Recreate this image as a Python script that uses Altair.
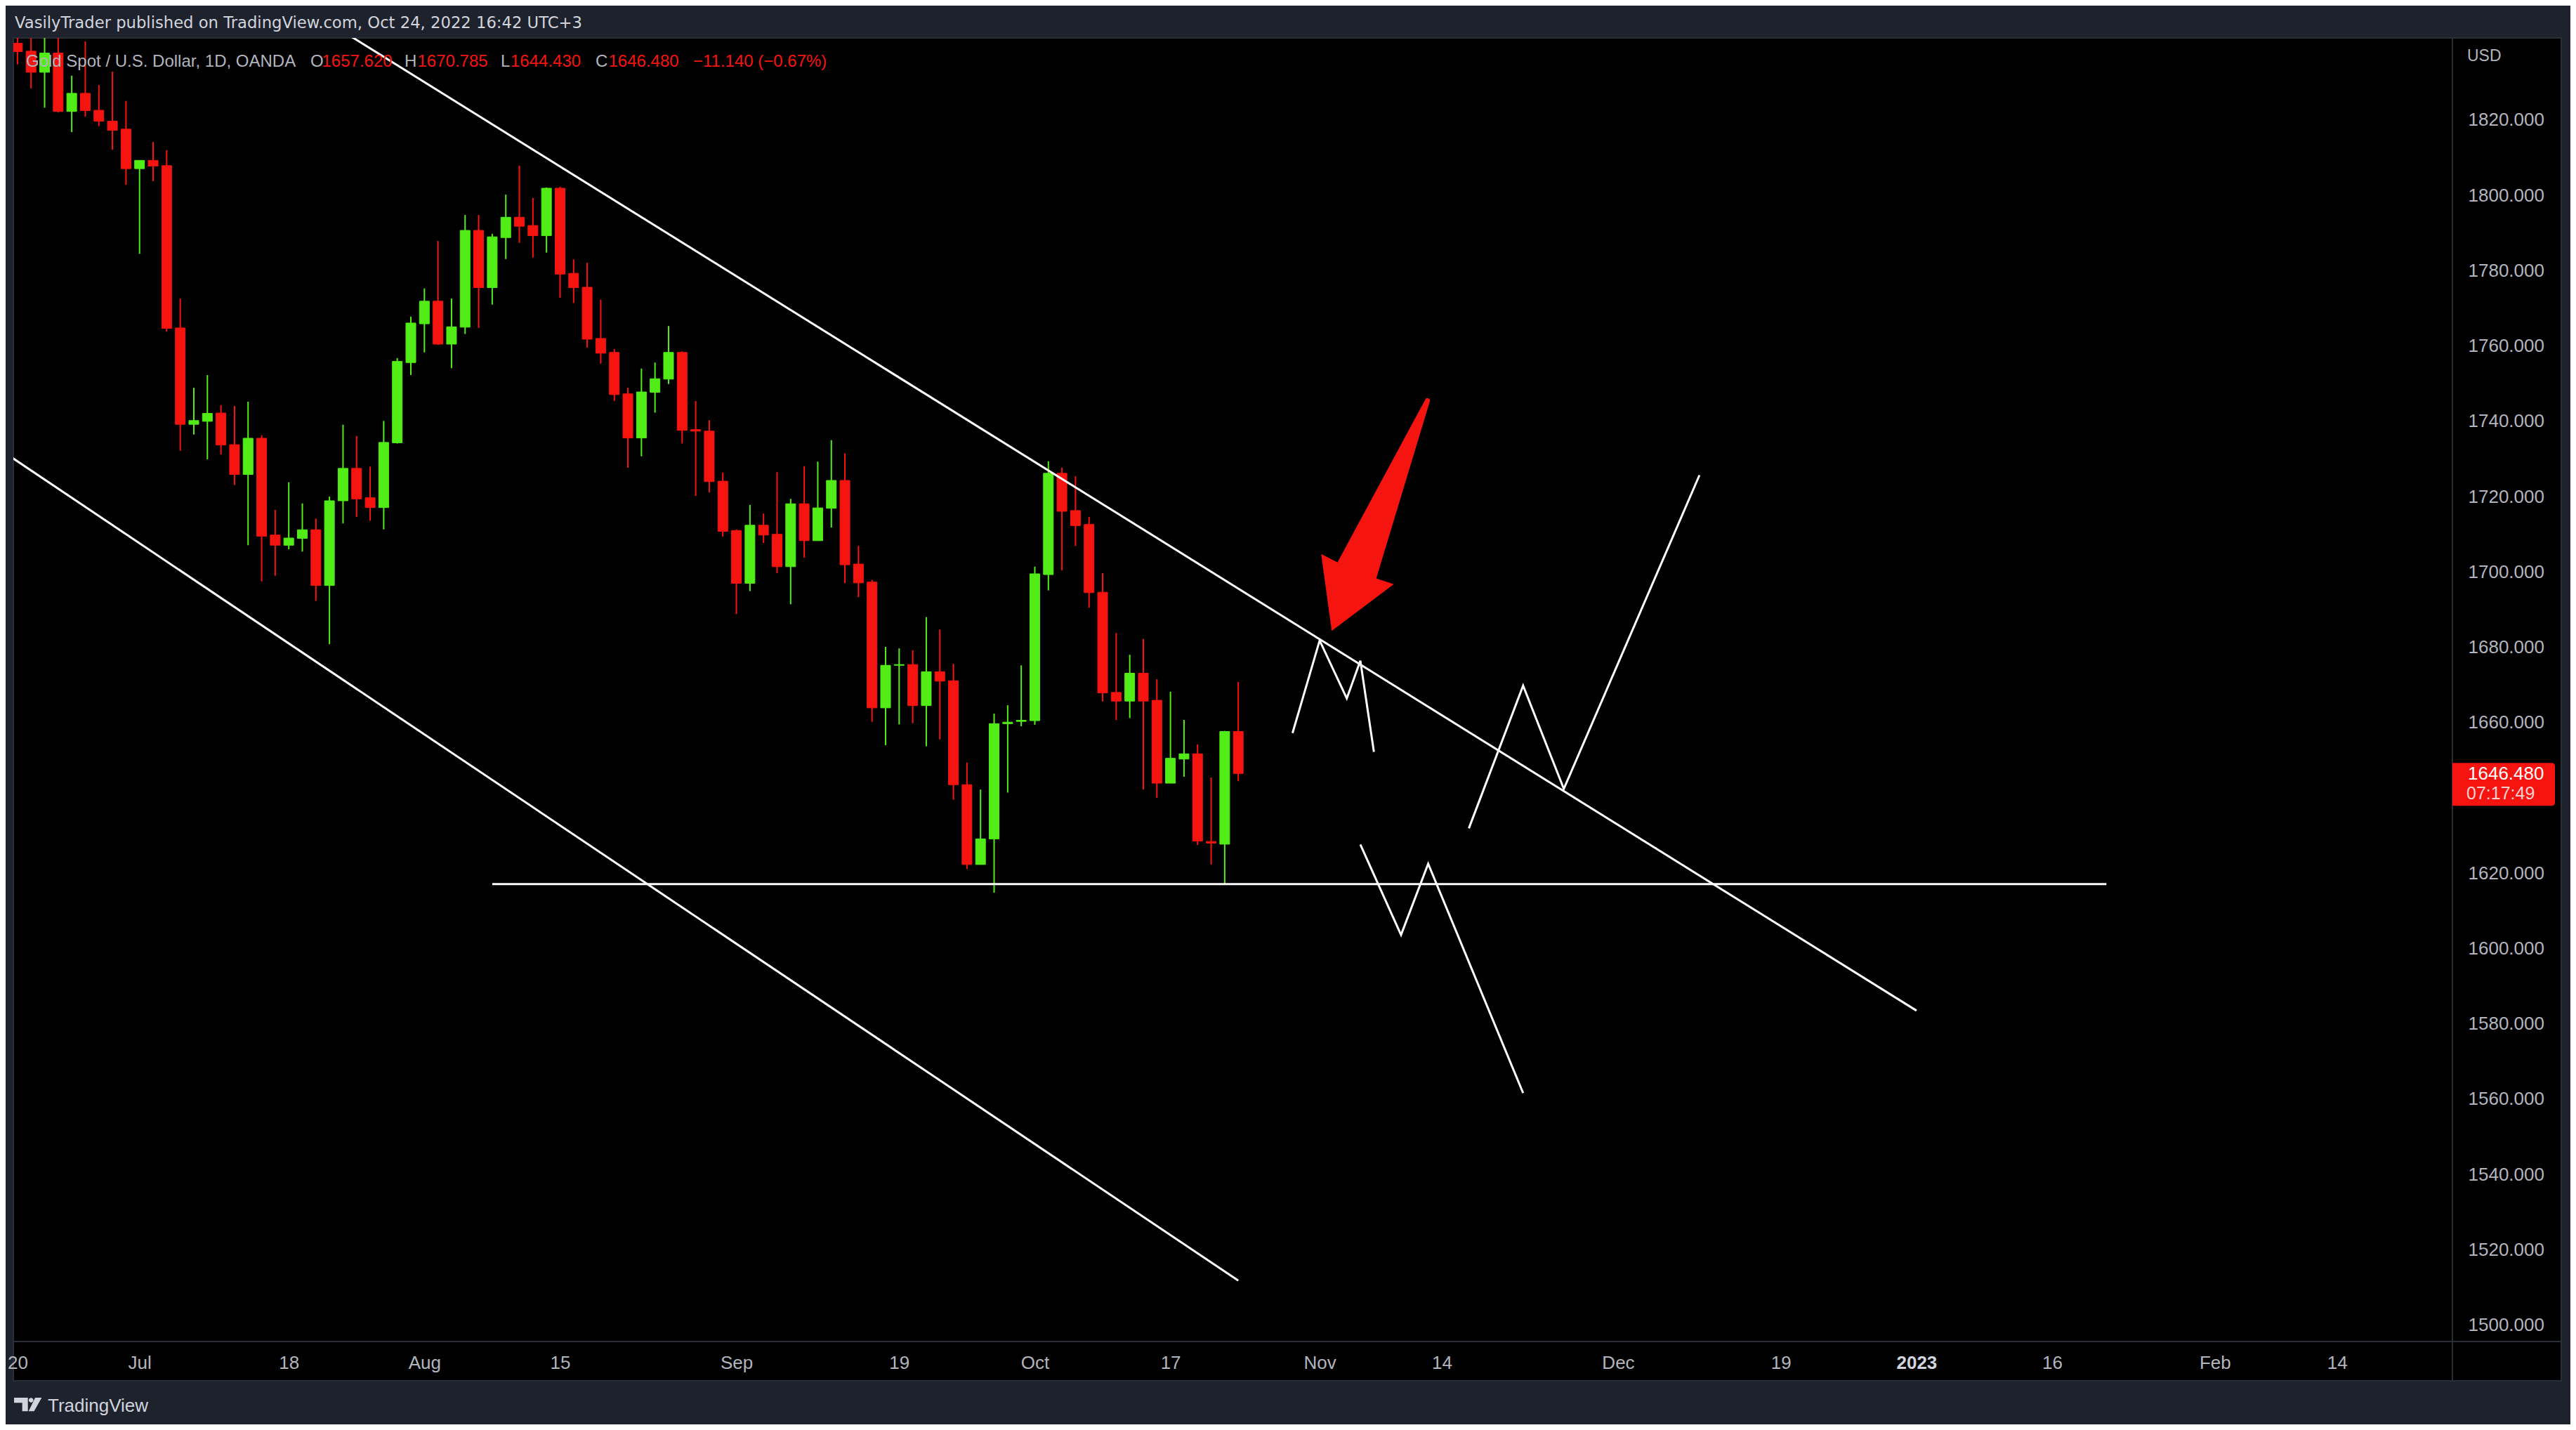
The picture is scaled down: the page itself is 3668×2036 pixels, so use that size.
import altair as alt
import pandas as pd

# ---------------- calendar (weekday bars, as TradingView spaces them) ----------------
cal = pd.bdate_range("2022-06-20", "2023-03-31")

# ---------------- daily OHLC, XAUUSD (OANDA), Jun 20 - Oct 24 2022 ----------------
opens = [1840.4, 1838.3, 1832.7, 1837.8, 1822.3, 1827.1, 1822.6, 1819.7, 1817.6, 1807.1,
         1809.3, 1807.9, 1764.8, 1739.2, 1740.0, 1742.2, 1733.8, 1725.9, 1735.5, 1709.8,
         1707.1, 1708.9, 1711.2, 1696.4, 1718.9, 1727.5, 1719.7, 1717.1, 1734.3, 1755.6,
         1765.9, 1771.9, 1760.5, 1765.0, 1790.7, 1775.5, 1788.8, 1794.2, 1792.0, 1789.3,
         1801.9, 1779.3, 1775.6, 1762.0, 1758.3, 1747.3, 1735.6, 1747.7, 1751.2, 1758.3,
         1737.8, 1737.4, 1724.1, 1711.0, 1697.0, 1712.4, 1710.0, 1701.4, 1718.1, 1708.3,
         1716.9, 1724.3, 1702.1, 1697.3, 1663.9, 1675.2, 1675.4, 1664.5, 1673.5, 1671.1,
         1643.5, 1622.3, 1629.1, 1659.7, 1660.3, 1660.5, 1699.3, 1726.2, 1716.3, 1712.6,
         1694.6, 1668.0, 1665.7, 1673.1, 1665.9, 1643.9, 1650.3, 1651.7, 1628.4, 1627.7,
         1657.62]
highs = [1845.0, 1843.0, 1846.0, 1845.0, 1831.8, 1840.9, 1829.3, 1832.9, 1825.1, 1809.3,
         1814.2, 1812.0, 1772.6, 1748.9, 1752.3, 1744.3, 1744.1, 1745.2, 1736.3, 1716.5,
         1723.8, 1718.2, 1714.2, 1720.0, 1739.1, 1736.1, 1728.0, 1740.1, 1756.8, 1767.8,
         1775.3, 1787.9, 1772.6, 1794.8, 1794.8, 1789.8, 1800.2, 1807.9, 1799.3, 1802.1,
         1802.3, 1783.0, 1782.1, 1772.3, 1759.2, 1748.9, 1754.0, 1755.6, 1765.3, 1758.6,
         1745.4, 1740.3, 1726.4, 1711.3, 1717.8, 1715.5, 1726.5, 1719.4, 1728.1, 1729.3,
         1735.0, 1731.5, 1706.9, 1697.9, 1680.1, 1679.7, 1679.2, 1688.0, 1684.7, 1675.6,
         1649.4, 1642.2, 1662.4, 1664.6, 1675.2, 1701.4, 1729.4, 1727.7, 1725.4, 1714.6,
         1699.7, 1683.8, 1678.0, 1682.2, 1671.5, 1668.2, 1660.7, 1654.2, 1645.4, 1657.8,
         1670.785]
lows = [1834.8, 1828.4, 1823.3, 1822.0, 1816.8, 1820.9, 1818.4, 1812.1, 1802.8, 1784.5,
        1803.8, 1763.8, 1732.2, 1736.5, 1729.9, 1731.2, 1723.1, 1707.1, 1697.5, 1699.0,
        1706.0, 1705.4, 1692.3, 1680.8, 1712.9, 1714.6, 1713.6, 1711.3, 1734.1, 1752.3,
        1758.3, 1760.3, 1754.1, 1763.2, 1764.8, 1771.0, 1783.1, 1787.4, 1783.5, 1784.8,
        1772.8, 1771.4, 1759.6, 1755.3, 1745.4, 1727.7, 1730.7, 1742.3, 1749.9, 1734.1,
        1720.2, 1721.1, 1709.4, 1688.8, 1694.9, 1707.7, 1699.7, 1691.4, 1703.8, 1708.3,
        1711.8, 1697.0, 1693.3, 1660.2, 1654.0, 1659.5, 1659.8, 1653.7, 1655.5, 1639.5,
        1621.1, 1622.3, 1614.8, 1641.4, 1659.0, 1659.4, 1695.1, 1700.4, 1706.9, 1690.5,
        1665.6, 1660.7, 1661.2, 1642.2, 1640.0, 1643.9, 1645.6, 1627.5, 1622.3, 1617.1,
        1644.43]
closes = [1838.2, 1832.7, 1837.8, 1822.3, 1827.1, 1822.5, 1819.7, 1817.3, 1807.1, 1809.3,
          1807.8, 1764.7, 1739.2, 1740.2, 1742.1, 1733.7, 1725.9, 1735.5, 1709.5, 1707.1,
          1709.0, 1711.2, 1696.4, 1718.9, 1727.5, 1719.4, 1717.1, 1734.4, 1755.9, 1766.1,
          1771.9, 1760.5, 1765.1, 1790.7, 1775.5, 1789.0, 1794.2, 1791.8, 1789.3, 1801.9,
          1779.1, 1775.5, 1761.8, 1758.1, 1747.1, 1735.6, 1747.8, 1751.3, 1758.3, 1737.6,
          1737.4, 1724.0, 1710.8, 1697.0, 1712.4, 1709.8, 1701.4, 1718.1, 1708.3, 1717.0,
          1724.3, 1701.9, 1697.1, 1663.9, 1675.2, 1675.4, 1664.5, 1673.5, 1671.0, 1643.5,
          1622.3, 1629.1, 1659.7, 1660.1, 1660.6, 1699.5, 1726.2, 1716.1, 1712.3, 1694.5,
          1667.9, 1665.7, 1673.1, 1665.7, 1643.9, 1650.5, 1651.7, 1628.5, 1628.0, 1657.62,
          1646.48]

# ---------------- time-axis tick labels ----------------
tick_dates = ["2022-06-20", "2022-07-01", "2022-07-18", "2022-08-01", "2022-08-15",
              "2022-09-01", "2022-09-19", "2022-10-03", "2022-10-17", "2022-11-01",
              "2022-11-14", "2022-12-01", "2022-12-19", "2023-01-02", "2023-01-16",
              "2023-02-01", "2023-02-14"]
tick_labels = ["20", "Jul", "18", "Aug", "15", "Sep", "19", "Oct", "17", "Nov", "14",
               "Dec", "19", "2023", "16", "Feb", "14"]
price_ticks = [1500, 1520, 1540, 1560, 1580, 1600, 1620, 1660, 1680, 1700, 1720,
               1740, 1760, 1780, 1800, 1820]

# ---------------- drawings (bar index, price) ----------------
upper_channel_idx = [20, 140]
upper_channel_px = [1852.5, 1583.5]
lower_channel_idx = [-2, 90]
lower_channel_px = [1734.2, 1511.8]
support_idx = [35, 154]
support_px = [1617.1, 1617.1]
zigzag1_idx = [94, 96, 98, 99, 100]
zigzag1_px = [1657.2, 1681.8, 1666.4, 1676.4, 1652.2]
zigzag2_idx = [99, 102, 104, 111]
zigzag2_px = [1627.6, 1603.6, 1622.5, 1561.6]
zigzag3_idx = [107, 111, 114, 124]
zigzag3_px = [1631.9, 1669.8, 1642.4, 1725.7]
# red arrow: shaft (tail -> base of head) and head anchor
arrow_shaft_idx = [103.95, 98.72]
arrow_shaft_px = [1745.5, 1700.2]
arrow_head_idx = [98.70]
arrow_head_px = [1700.0]

# ---------------- frames ----------------
n = len(opens)
candles = pd.DataFrame({
    "idx": list(range(n)),
    "date": cal[:n].strftime("%Y-%m-%d"),
    "open": opens, "high": highs, "low": lows, "close": closes,
})
candles["dir"] = ["up" if c >= o else "down" for o, c in zip(opens, closes)]

rows = []
for name, xs_, ps_ in [("upper", upper_channel_idx, upper_channel_px),
                       ("lower", lower_channel_idx, lower_channel_px),
                       ("support", support_idx, support_px),
                       ("zz1", zigzag1_idx, zigzag1_px),
                       ("zz2", zigzag2_idx, zigzag2_px),
                       ("zz3", zigzag3_idx, zigzag3_px)]:
    for k, (a, b) in enumerate(zip(xs_, ps_)):
        rows.append({"line": name, "ord": k, "idx": a, "price": b})
drawings = pd.DataFrame(rows)

SHAFT_W = [7, 60]
shaft = pd.DataFrame({"idx": arrow_shaft_idx, "price": arrow_shaft_px, "w": SHAFT_W,
                      "ord": list(range(len(arrow_shaft_idx)))})
head = pd.DataFrame({"idx": arrow_head_idx, "price": arrow_head_px})

last = pd.DataFrame({"idx": [n - 1], "price": [closes[-1]],
                     "label": [f"{closes[-1]:.3f}"]})
one = pd.DataFrame({"k": [0]})

tick_idx = [int(cal.get_loc(pd.Timestamp(d))) for d in tick_dates]
label_expr = "''"
for i, lab in reversed(list(zip(tick_idx, tick_labels))):
    label_expr = f"datum.value == {i} ? '{lab}' : ({label_expr})"
year_idx = tick_idx[tick_labels.index("2023")]

# ---------------- styling ----------------
W, H = 3473, 1856
RED = "#f5140f"
GREEN = "#52ec16"
FRAME = "#2a2e39"
AXIS_TXT = "#b2b5be"
FONT = "Liberation Sans"

xscale = alt.Scale(domain=[-0.046, 179.25], nice=False, zero=False)
yscale = alt.Scale(domain=[1495.62, 1841.82], nice=False, zero=False)
xaxis = alt.Axis(values=tick_idx, labelExpr=label_expr, title=None, domain=False,
                 ticks=False, tickSize=0, grid=False, labelPadding=30,
                 labelBaseline="middle", labelFontSize=26, labelFont=FONT,
                 labelColor={"condition": {"test": f"datum.value == {year_idx}", "value": "#d1d4dc"},
                             "value": AXIS_TXT},
                 labelFontWeight={"condition": {"test": f"datum.value == {year_idx}", "value": "bold"},
                                  "value": "normal"},
                 labelOverlap=False, labelBound=False, labelFlush=False, zindex=2)
yaxis = alt.Axis(values=price_ticks, format=".3f", orient="right", title=None,
                 domain=False, ticks=False, tickSize=0, grid=False, labelPadding=22,
                 labelAlign="left", labelBaseline="middle", labelFontSize=26,
                 labelFont=FONT, labelColor=AXIS_TXT, labelOverlap=False, zindex=2)


def X(field="idx"):
    return alt.X(f"{field}:Q", scale=xscale, axis=xaxis)


def Y(field):
    return alt.Y(f"{field}:Q", scale=yscale, axis=yaxis)


color = alt.Color("dir:N", scale=alt.Scale(domain=["up", "down"], range=[GREEN, RED]),
                  legend=None)

layers = []

# black chart panels with frame
layers.append(alt.Chart(one).mark_rect(fill="#000000", stroke=FRAME, strokeWidth=2).encode(
    x=alt.value(0), x2=alt.value(3628), y=alt.value(0), y2=alt.value(1912)))
layers.append(alt.Chart(one).mark_rule(color=FRAME, strokeWidth=2).encode(
    x=alt.value(W), y=alt.value(0), y2=alt.value(1912)))
layers.append(alt.Chart(one).mark_rule(color=FRAME, strokeWidth=2).encode(
    y=alt.value(H), x=alt.value(0), x2=alt.value(3628)))

# candles
layers.append(alt.Chart(candles).mark_rule(strokeWidth=2, clip=True).encode(
    x=X(), y=Y("low"), y2="high:Q", color=color))
layers.append(alt.Chart(candles).mark_bar(size=14, clip=True, strokeWidth=1).encode(
    x=X(), y=Y("open"), y2="close:Q", color=color, stroke=color))

# drawings
layers.append(alt.Chart(drawings).mark_line(color="white", strokeWidth=3, clip=True,
                                            strokeJoin="miter").encode(
    x=X(), y=Y("price"), detail="line:N", order="ord:Q"))

# red arrow: tapered shaft + head
layers.append(alt.Chart(shaft).mark_trail(color=RED).encode(
    x=X(), y=Y("price"), size=alt.Size("w:Q", scale=None, legend=None), order="ord:Q"))
head_path = "M0,-1.625 L1,0.08 L0,0 L-1,0.08 Z"
layers.append(alt.Chart(head).mark_point(shape=head_path, filled=True, size=12544,
                                         angle=202.6, color=RED, opacity=1,
                                         strokeWidth=0).encode(
    x=X(), y=Y("price")))

# last price tag on the price scale
layers.append(alt.Chart(last).mark_rect(color=RED, yOffset=-15, y2Offset=46,
                                        cornerRadiusTopRight=4,
                                        cornerRadiusBottomRight=4).encode(
    x=alt.value(W), x2=alt.value(W + 146), y=Y("price"), y2="price:Q"))
layers.append(alt.Chart(last).mark_text(align="left", baseline="middle", fontSize=26,
                                        font=FONT, color="#ffffff", dy=1).encode(
    x=alt.value(W + 22), y=Y("price"), text="label:N"))
layers.append(alt.Chart(last).mark_text(align="left", baseline="middle", fontSize=25,
                                        font=FONT, color="#ffd2d2", dy=29,
                                        text="07:17:49").encode(
    x=alt.value(W + 20), y=Y("price")))

# USD
layers.append(alt.Chart(one).mark_text(text="USD", align="left", baseline="middle",
                                       fontSize=23, font=FONT, color=AXIS_TXT).encode(
    x=alt.value(W + 21), y=alt.value(26)))

# header
layers.append(alt.Chart(one).mark_text(
    text="VasilyTrader published on TradingView.com, Oct 24, 2022 16:42 UTC+3",
    align="left", baseline="alphabetic", fontSize=22.7, font="DejaVu Sans",
    color="#d1d4dc").encode(x=alt.value(2), y=alt.value(-14)))

# legend line
chg = closes[-1] - closes[-2]
pct = chg / closes[-2] * 100
legend_texts = ["Gold Spot / U.S. Dollar, 1D, OANDA",
                "O", f"{opens[-1]:.3f}", "H", f"{highs[-1]:.3f}",
                "L", f"{lows[-1]:.3f}", "C", f"{closes[-1]:.3f}",
                f"{chg:.3f} ({pct:.2f}%)".replace("-", "\u2212")]
legend_colors = [AXIS_TXT, AXIS_TXT, RED, AXIS_TXT, RED, AXIS_TXT, RED, AXIS_TXT, RED, RED]
legend_x = [18, 423, 439.5, 557, 575.5, 694, 708, 829, 847.5, 968]
for t, c, px in zip(legend_texts, legend_colors, legend_x):
    layers.append(alt.Chart(one).mark_text(text=t, align="left", baseline="alphabetic",
                                           fontSize=24, font=FONT, color=c).encode(
        x=alt.value(px), y=alt.value(41)))

# TradingView logo + wordmark
logo_path = ("M-1,-0.49 L0,-0.49 L0,0.49 L-0.41,0.49 L-0.41,-0.12 L-1,-0.12 Z "
             "M0.06,-0.31 A0.17,0.17 0 1,0 0.40,-0.31 A0.17,0.17 0 1,0 0.06,-0.31 Z "
             "M0.53,-0.49 L1,-0.49 L0.45,0.49 L0.05,0.49 Z")
layers.append(alt.Chart(one).mark_point(shape=logo_path, filled=True, size=1545,
                                        color="#d1d4dc", opacity=1, strokeWidth=0).encode(
    x=alt.value(20.7), y=alt.value(1945.7)))
layers.append(alt.Chart(one).mark_text(text="TradingView", align="left",
                                       baseline="alphabetic", fontSize=26, font=FONT,
                                       color="#d1d4dc").encode(
    x=alt.value(49), y=alt.value(1956)))

chart = alt.layer(*layers).properties(
    width=W, height=H,
    padding={"left": 11, "top": 46, "right": 168, "bottom": 118},
    autosize=alt.AutoSizeParams(type="none"),
    background="#1e222d",
).configure_view(stroke=None)

chart.save("out.html", embed_options={"renderer": "svg", "actions": False})
